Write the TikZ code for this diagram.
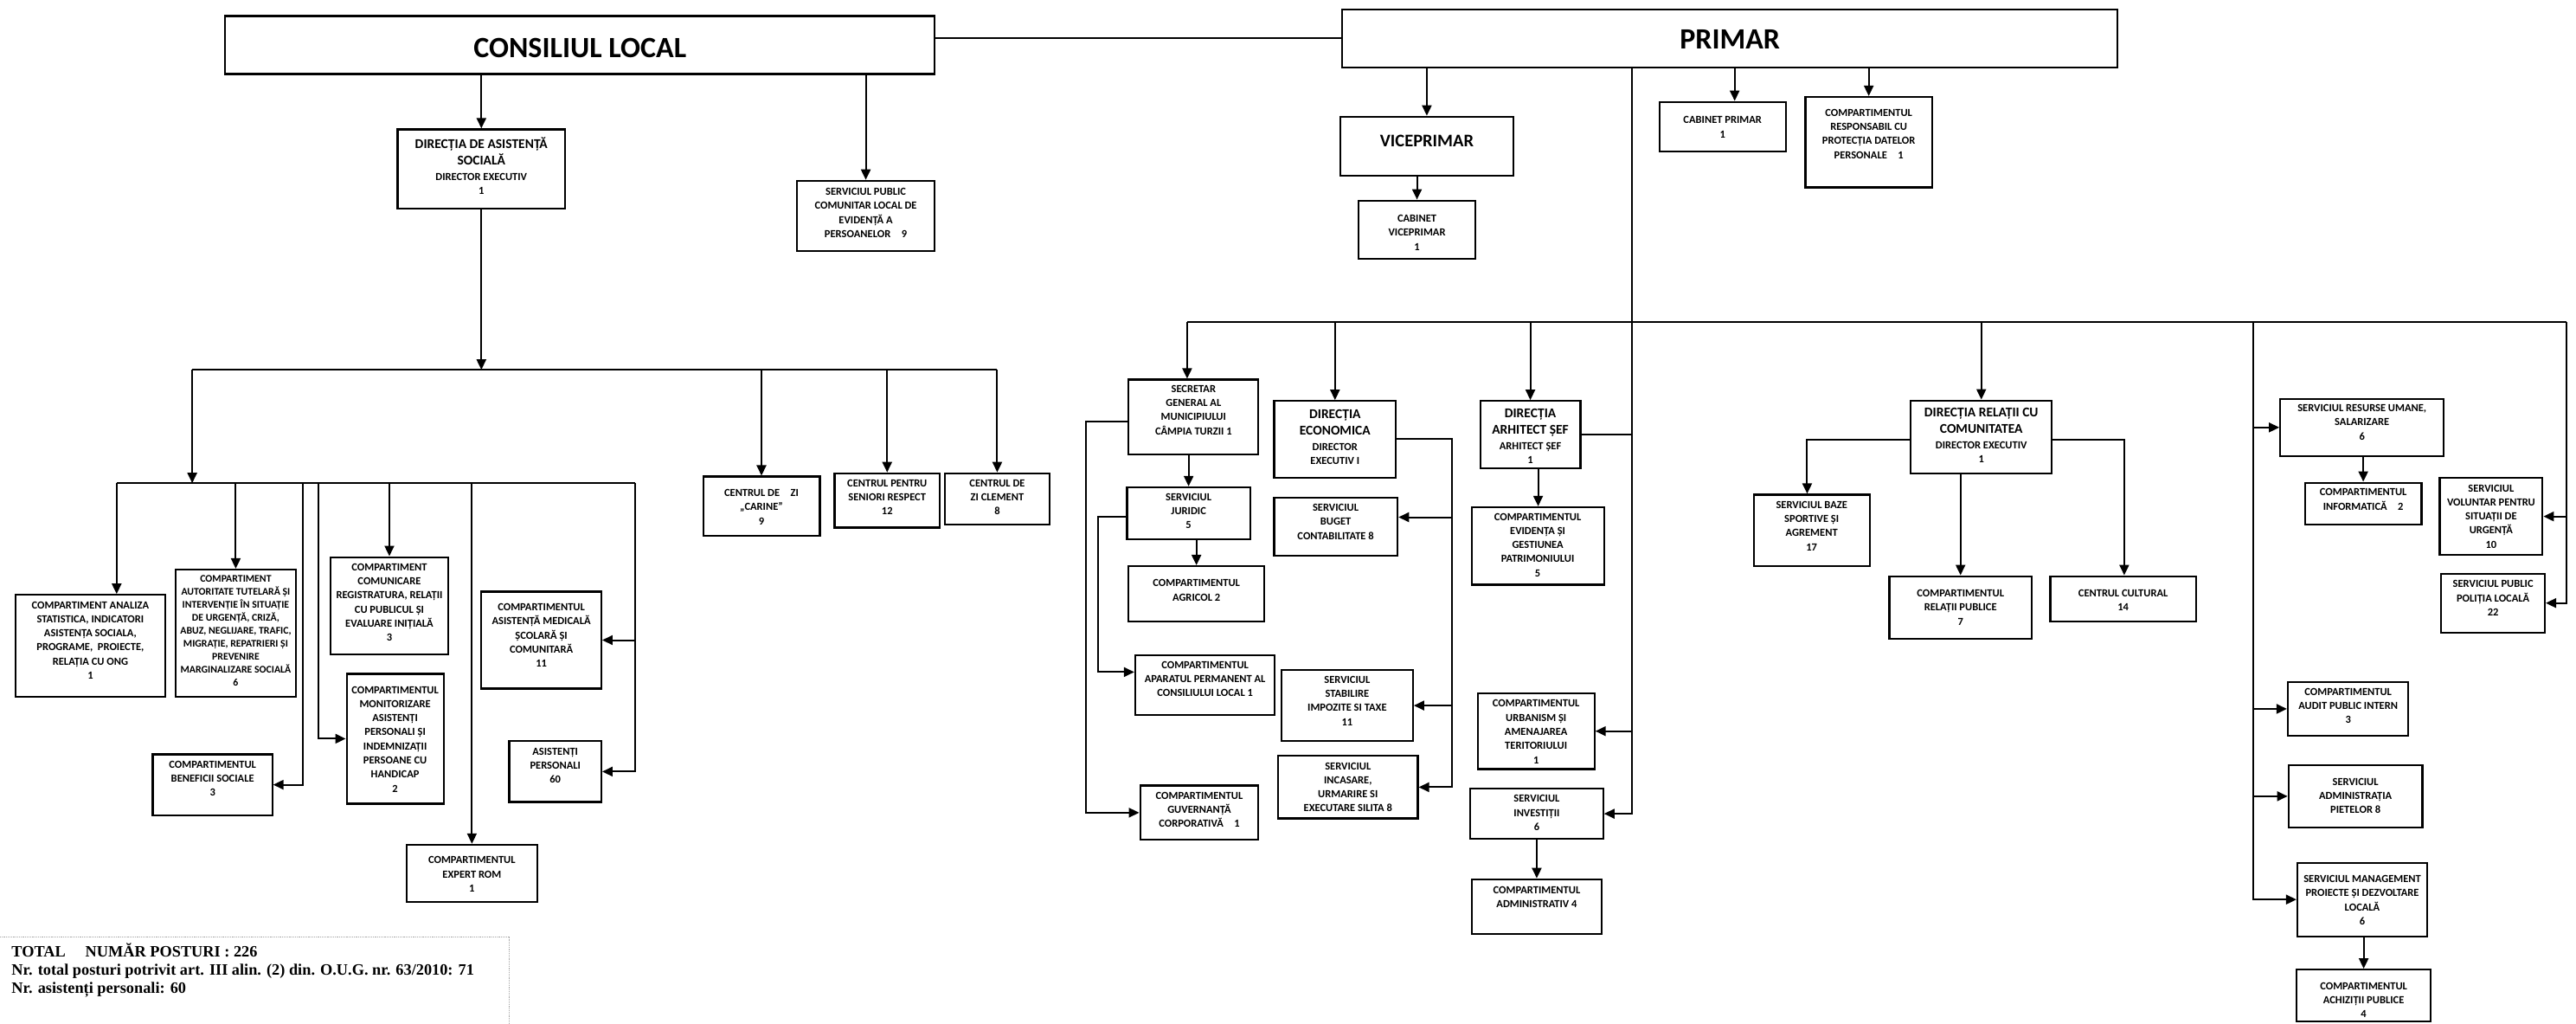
\documentclass[tikz,border=0pt]{standalone}
\usepackage{fontspec}
\setmainfont{Carlito}
\newfontfamily\cfont{Carlito}
\newfontfamily\sfont{Liberation Serif}
\usetikzlibrary{arrows.meta,fit}
\newcommand\fbody{\cfont\bfseries\fontsize{12.5}{16.3}\selectfont}
\newcommand\ftitle{\cfont\bfseries\fontsize{15.5}{19}\selectfont}
\newcommand\mkbox[3]{\node[box, fit={#2 #3}] (#1) {};}
\newcommand\mktext[4][]{\node[txt,#1] (#2-t) at #3 {#4};}
\tikzset{
 box/.style={draw, line width=2.2pt, inner sep=0pt},
 txt/.style={align=center, inner sep=0pt, font=\fbody},
 ln/.style={line width=2pt},
 arr/.style={line width=2pt, -{Triangle[width=11pt,length=12pt]}},
}
\begin{document}
\begin{tikzpicture}[x=1.8986pt,y=-1.8986pt]
\useasboundingbox (0,0) rectangle (1568,623);
\fill[white] (0,0) rectangle (1568,623);

% ---------- boxes ----------
\mkbox{cl}{(137,9.7)}{(569,45)}
\mkbox{pr}{(817,5.8)}{(1289,41)}
\mkbox{das}{(242,78.7)}{(344,127)}
\mkbox{spc}{(485,110)}{(569,152.7)}
\mkbox{vp}{(816,71)}{(921,107)}
\mkbox{cvp}{(827,122)}{(898,157.5)}
\mkbox{cp}{(1010,62)}{(1087,92)}
\mkbox{crp}{(1099,59)}{(1176,114)}
\mkbox{car}{(428,290)}{(499,326)}
\mkbox{sen}{(508,288)}{(572,321)}
\mkbox{cle}{(575,288)}{(639,319)}
\mkbox{ana}{(9.5,362)}{(100.6,424)}
\mkbox{aut}{(107,346.6)}{(180,424)}
\mkbox{ben}{(93,459)}{(165.7,496)}
\mkbox{com}{(201,339)}{(273,398)}
\mkbox{mon}{(211,410)}{(270,489)}
\mkbox{exp}{(247.5,514)}{(327,549)}
\mkbox{med}{(293,360)}{(366,419)}
\mkbox{asi}{(310,451)}{(366,488)}
\mkbox{sec}{(687,231)}{(766,276.5)}
\mkbox{eco}{(775.6,244)}{(849.6,290.6)}
\mkbox{jur}{(686,296.5)}{(761,328)}
\mkbox{agr}{(687,344.5)}{(769.5,378)}
\mkbox{apa}{(691,398.7)}{(776,435)}
\mkbox{guv}{(694,478)}{(766,511)}
\mkbox{bug}{(775.6,303)}{(850.7,338)}
\mkbox{sta}{(780,407.6)}{(860,451)}
\mkbox{inc}{(778,460)}{(863,498)}
\mkbox{arh}{(901,244)}{(962,285)}
\mkbox{evi}{(896,308.6)}{(976.5,355.8)}
\mkbox{urb}{(899.5,421.8)}{(970.5,468)}
\mkbox{inv}{(895,479.8)}{(975.8,510.5)}
\mkbox{adm}{(895.8,535)}{(975,568.5)}
\mkbox{rel}{(1163,243.7)}{(1249,288)}
\mkbox{baz}{(1067.5,301)}{(1138,344.5)}
\mkbox{rpu}{(1150,350.6)}{(1236.7,388.5)}
\mkbox{cul}{(1248,350.6)}{(1336.7,378.3)}
\mkbox{res}{(1388,242.6)}{(1487.5,277.6)}
\mkbox{inf}{(1403,293.7)}{(1474,319)}
\mkbox{vol}{(1485,290.9)}{(1547.6,337.6)}
\mkbox{pol}{(1486,349)}{(1549,384.9)}
\mkbox{aud}{(1392.6,415)}{(1466,447.7)}
\mkbox{pie}{(1393,465.6)}{(1474.5,503.4)}
\mkbox{man}{(1398.4,525)}{(1477.4,569.7)}
\mkbox{ach}{(1398,590)}{(1479.5,621.5)}

% ---------- texts ----------
\mktext[font=\cfont\bfseries\fontsize{34}{40}\selectfont]{cl}{(353,29)}{CONSILIUL LOCAL}
\mktext[font=\cfont\bfseries\fontsize{34}{40}\selectfont]{pr}{(1053,24)}{PRIMAR}
\mktext[font=\cfont\bfseries\fontsize{20.5}{24}\selectfont]{vp}{(868.5,86)}{VICEPRIMAR}
\mktext{das}{(293,101)}{\ftitle DIRECȚIA DE ASISTENȚĂ\\[2.7pt]\ftitle SOCIALĂ\\[1pt]\fbody DIRECTOR EXECUTIV\\\fbody 1}
\mktext{spc}{(527,129.5)}{SERVICIUL PUBLIC\\COMUNITAR LOCAL DE\\EVIDENȚĂ A\\PERSOANELOR\quad 9}
\mktext{cvp}{(862.5,141.5)}{CABINET\\VICEPRIMAR\\1}
\mktext{cp}{(1048.5,77.3)}{CABINET PRIMAR\\1}
\mktext{crp}{(1137.5,81.5)}{COMPARTIMENTUL\\RESPONSABIL CU\\PROTECȚIA DATELOR\\PERSONALE\quad 1}
\mktext{car}{(463.5,308.5)}{CENTRUL DE\quad ZI\\„CARINE”\\9}
\mktext{sen}{(540,302.5)}{CENTRUL PENTRU\\SENIORI RESPECT\\12}
\mktext{cle}{(607,302.5)}{CENTRUL DE\\ZI CLEMENT\\8}
\mktext{ana}{(55,389.6)}{COMPARTIMENT ANALIZA\\STATISTICA, INDICATORI\\ASISTENȚA SOCIALA,\\PROGRAME,\ \ PROIECTE,\\RELAȚIA CU ONG\\1}
\mktext[font=\cfont\bfseries\fontsize{11.8}{15}\selectfont]{aut}{(143.5,383.6)}{COMPARTIMENT\\AUTORITATE TUTELARĂ ȘI\\INTERVENȚIE ÎN SITUAȚIE\\DE URGENȚĂ, CRIZĂ,\\ABUZ, NEGLIJARE, TRAFIC,\\MIGRAȚIE, REPATRIERI ȘI\\PREVENIRE\\MARGINALIZARE SOCIALĂ\\6}
\mktext{ben}{(129.4,473.7)}{COMPARTIMENTUL\\BENEFICII SOCIALE\\3}
\mktext{com}{(237,366.6)}{COMPARTIMENT\\COMUNICARE\\REGISTRATURA, RELAȚII\\CU PUBLICUL ȘI\\EVALUARE INIȚIALĂ\\3}
\mktext{mon}{(240.5,449.8)}{COMPARTIMENTUL\\MONITORIZARE\\ASISTENȚI\\PERSONALI ȘI\\INDEMNIZAȚII\\PERSOANE CU\\HANDICAP\\2}
\mktext{exp}{(287.25,532)}{COMPARTIMENTUL\\EXPERT ROM\\1}
\mktext{med}{(329.5,386.7)}{COMPARTIMENTUL\\ASISTENȚĂ MEDICALĂ\\ȘCOLARĂ ȘI\\COMUNITARĂ\\11}
\mktext{asi}{(338,465.8)}{ASISTENȚI\\PERSONALI\\60}
\mktext{sec}{(726.5,249.4)}{SECRETAR\\GENERAL AL\\MUNICIPIULUI\\CÂMPIA TURZII 1}
\mktext{eco}{(812.6,266)}{\ftitle DIRECȚIA\\[2.7pt]\ftitle ECONOMICA\\[1pt]\fbody DIRECTOR\\\fbody EXECUTIV I}
\mktext{jur}{(723.5,310.9)}{SERVICIUL\\JURIDIC\\5}
\mktext{agr}{(728.25,359.2)}{COMPARTIMENTUL\\AGRICOL 2}
\mktext{apa}{(733.5,413.2)}{COMPARTIMENTUL\\APARATUL PERMANENT AL\\CONSILIULUI LOCAL 1}
\mktext{guv}{(730,492.8)}{COMPARTIMENTUL\\GUVERNANȚĂ\\CORPORATIVĂ\quad 1}
\mktext{bug}{(813,317.5)}{SERVICIUL\\BUGET\\CONTABILITATE 8}
\mktext{sta}{(820,426.4)}{SERVICIUL\\STABILIRE\\IMPOZITE SI TAXE\\11}
\mktext{inc}{(820.5,479)}{SERVICIUL\\INCASARE,\\URMARIRE SI\\EXECUTARE SILITA 8}
\mktext{arh}{(931.5,265.5)}{\ftitle DIRECȚIA\\[2.7pt]\ftitle ARHITECT ȘEF\\[1pt]\fbody ARHITECT ȘEF\\\fbody 1}
\mktext{evi}{(936,331.6)}{COMPARTIMENTUL\\EVIDENȚA ȘI\\GESTIUNEA\\PATRIMONIULUI\\5}
\mktext{urb}{(935,445.3)}{COMPARTIMENTUL\\URBANISM ȘI\\AMENAJAREA\\TERITORIULUI\\1}
\mktext{inv}{(935.4,494.7)}{SERVICIUL\\INVESTIȚII\\6}
\mktext{adm}{(935.4,545.8)}{COMPARTIMENTUL\\ADMINISTRATIV 4}
\mktext{rel}{(1206,265)}{\ftitle DIRECȚIA RELAȚII CU\\[2.7pt]\ftitle COMUNITATEA\\[1pt]\fbody DIRECTOR EXECUTIV\\\fbody 1}
\mktext{baz}{(1102.75,320)}{SERVICIUL BAZE\\SPORTIVE ȘI\\AGREMENT\\17}
\mktext{rpu}{(1193.35,369.6)}{COMPARTIMENTUL\\RELAȚII PUBLICE\\7}
\mktext{cul}{(1292.35,365.2)}{CENTRUL CULTURAL\\14}
\mktext{res}{(1437.75,257)}{SERVICIUL RESURSE UMANE,\\SALARIZARE\\6}
\mktext{inf}{(1438.5,303.9)}{COMPARTIMENTUL\\INFORMATICĂ\quad 2}
\mktext{vol}{(1516.3,314.2)}{SERVICIUL\\VOLUNTAR PENTRU\\SITUAȚII DE\\URGENȚĂ\\10}
\mktext{pol}{(1517.5,364)}{SERVICIUL PUBLIC\\POLIȚIA LOCALĂ\\22}
\mktext{aud}{(1429.3,429.5)}{COMPARTIMENTUL\\AUDIT PUBLIC INTERN\\3}
\mktext{pie}{(1433.75,484.3)}{SERVICIUL\\ADMINISTRAȚIA\\PIETELOR 8}
\mktext{man}{(1437.9,547.7)}{SERVICIUL MANAGEMENT\\PROIECTE ȘI DEZVOLTARE\\LOCALĂ\\6}
\mktext{ach}{(1438.75,608.6)}{COMPARTIMENTUL\\ACHIZIȚII PUBLICE\\4}

% ---------- connectors: top ----------
\draw[ln] (pr.west) -- (pr.west -| cl.east);
\draw[arr] (cl.south -| das.north) -- (das.north);
\draw[arr] (cl.south -| spc.north) -- (spc.north);
\draw[arr] (pr.south -| vp.north) -- (vp.north);
\draw[arr] (vp.south -| cvp.north) -- (cvp.north);
\draw[arr] ([xshift=14pt]cp.north |- pr.south) -- ([xshift=14pt]cp.north);
\draw[arr] (pr.south -| crp.north) -- (crp.north);

% ---------- connectors: social assistance ----------
\coordinate (b1L) at (117,225);
\coordinate (b1R) at (607,225);
\draw[ln] (b1L) -- (b1R);
\draw[arr] (das.south) -- (das.south |- b1L);
\draw[arr] (car.north |- b1L) -- (car.north);
\draw[arr] (sen.north |- b1L) -- (sen.north);
\draw[arr] (b1R) -- (cle.north);
\coordinate (b2L) at (71,294);
\coordinate (b2R) at (386.7,294);
\draw[arr] (b1L) -- (b1L |- b2L);
\draw[ln] (b2L) -- (b2R);
\draw[arr] (b2L) -- (b2L |- ana.north);
\draw[arr] (aut.north |- b2L) -- (aut.north);
\coordinate (b2c) at (184.5,294);
\draw[arr] (b2c) |- (ben.east);
\coordinate (b2d) at (194,294);
\draw[arr] (b2d) |- (mon.west);
\draw[arr] (com.north |- b2L) -- (com.north);
\draw[arr] (exp.north |- b2L) -- (exp.north);
\draw[arr] (b2R) |- (asi.east);
\draw[arr] (b2R |- med.east) -- (med.east);

% ---------- connectors: mayor ----------
\coordinate (vx) at (993.6,0);
\coordinate (b3L) at (722.6,196);
\coordinate (b3R) at (1562,196);
\draw[ln] (b3L) -- (b3R);
\draw[arr] (pr.south -| vx) |- (inv.east);
\draw[arr] (urb.east -| vx) -- (urb.east);
\draw[ln] (arh.east) -- (arh.east -| vx);
\draw[arr] (b3L) -- (b3L |- sec.north);
\draw[arr] (eco.north |- b3L) -- (eco.north);
\draw[arr] (arh.north |- b3L) -- (arh.north);
\draw[arr] (rel.north |- b3L) -- (rel.north);
\coordinate (b3m) at (1371.7,196);
\draw[arr] (b3m) |- (man.west);
\draw[arr] (b3m |- res.west) -- (res.west);
\draw[arr] (b3m |- aud.west) -- (aud.west);
\draw[arr] (b3m |- pie.west) -- (pie.west);
\draw[arr] (b3R) |- (pol.east);
\draw[arr] (b3R |- vol.east) -- (vol.east);

\draw[arr] (sec.south -| jur.north) -- (jur.north);
\draw[arr] (jur.south -| agr.north) -- (agr.north);
\coordinate (sl) at (661,256.3);
\draw[arr] (sec.west |- sl) -- (sl) |- (guv.west);
\coordinate (jl) at (668.5,314.5);
\draw[arr] (jur.west |- jl) -- (jl) |- ([yshift=15pt]apa.west);

\coordinate (el) at (884,267);
\draw[arr] (eco.east) -- (eco.east -| el) |- (inc.east);
\draw[arr] ([yshift=11pt]bug.east -| el) -- ([yshift=11pt]bug.east);
\draw[arr] (el |- sta.east) -- (sta.east);

\draw[arr] (arh.south -| evi.north) -- (evi.north);
\draw[arr] (inv.south -| adm.north) -- (adm.north);

\coordinate (rl) at (1100,267.4);
\draw[arr] (rel.west |- rl) -- (rl) -- (rl |- baz.north);
\draw[arr] (rel.south -| rpu.north) -- (rpu.north);
\coordinate (rr) at (1293,267.4);
\draw[arr] (rel.east |- rr) -- (rr) -- (rr |- cul.north);
\draw[arr] (res.south -| inf.north) -- (inf.north);
\draw[arr] (man.south -| ach.north) -- (ach.north);

% ---------- totals ----------
\draw[densely dotted, gray!70, line width=1.2pt] (0,570) -- (310,570) -- (310,623);
\node[anchor=north west, align=left, inner sep=0pt, font=\sfont\bfseries\fontsize{18.3}{21}\selectfont] (tot) at (7,574)
 {TOTAL\quad\ NUMĂR POSTURI : 226\\Nr. total posturi potrivit art. III alin. (2) din. O.U.G. nr. 63/2010: 71\\Nr. asistenți personali: 60};
\end{tikzpicture}
\end{document}
